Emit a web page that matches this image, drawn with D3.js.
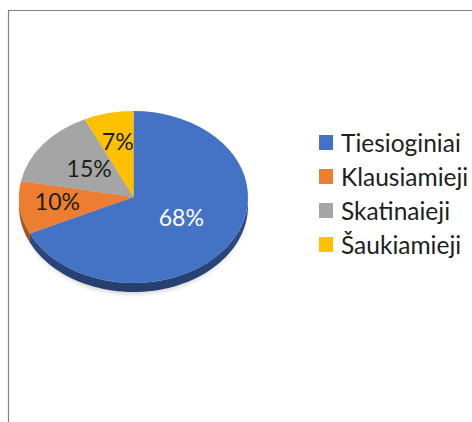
<!DOCTYPE html>
<html><head><meta charset="utf-8">
<script src="https://cdn.jsdelivr.net/npm/d3@7/dist/d3.min.js"></script>
<style>body{margin:0;background:#fff}svg{display:block}</style>
</head><body>
<svg id="c" width="472" height="422"></svg>
<script>
const categories = ["Tiesioginiai", "Klausiamieji", "Skatinaieji", "Šaukiamieji"];
const values = [68, 10, 15, 7];
const labels = ["68%", "10%", "15%", "7%"];
const colors = ["#4472C4", "#ED7D31", "#A5A5A5", "#FFC000"];
const sideColors = ["#2c4a82", "#b35c22", "#7c7c7c", "#bf9000"];
const labelColors = ["#ffffff", "#1e1e1e", "#1e1e1e", "#1e1e1e"];

const svg = d3.select("#c");
const font = "Lato, 'Open Sans', sans-serif";

// chart border
svg.append("path").attr("d", "M8.5,422 L8.5,10.5 L472,10.5")
  .attr("fill", "none").attr("stroke", "#808080").attr("stroke-width", 1.2);

const cx = 133.5, cy = 197, rx = 114.5, ry = 86, depth = 9;
const data = categories.map((c, i) => ({ c, v: values[i], i }));
const arcs = d3.pie().sort(null).value(d => d.v)(data);

const defs = svg.append("defs");
const pt = (a, dy) => [cx + rx * Math.sin(a), cy - ry * Math.cos(a) + dy];

const blur = defs.append("filter").attr("id", "sh").attr("x", "-20%").attr("y", "-20%").attr("width", "140%").attr("height", "140%");
blur.append("feGaussianBlur").attr("stdDeviation", 2.5);
svg.append("ellipse").attr("cx", cx).attr("cy", cy + depth + 2).attr("rx", rx - 2).attr("ry", ry)
  .attr("fill", "#000").attr("opacity", 0.18).attr("filter", "url(#sh)");

// side walls (front half)
arcs.forEach(a => {
  const s = Math.max(a.startAngle, Math.PI / 2), e = Math.min(a.endAngle, 3 * Math.PI / 2);
  if (e <= s) return;
  const g = defs.append("linearGradient").attr("id", "sg" + a.index)
    .attr("x1", 0).attr("y1", 0).attr("x2", 0).attr("y2", 1);
  g.append("stop").attr("offset", "0%").attr("stop-color", d3.color(sideColors[a.index]).brighter(0.3));
  g.append("stop").attr("offset", "100%").attr("stop-color", d3.color(sideColors[a.index]).darker(0.5));
  const n = 60, top = [], bot = [];
  for (let k = 0; k <= n; k++) {
    const t = s + (e - s) * k / n;
    top.push(pt(t, 0)); bot.push(pt(t, depth));
  }
  svg.append("path").attr("d", d3.line()(top.concat(bot.reverse())) + "Z")
    .attr("fill", "url(#sg" + a.index + ")");
});

// top face
const gTop = svg.append("g").attr("transform", `translate(${cx},${cy}) scale(1,${ry / rx})`);
const arcGen = d3.arc().innerRadius(0).outerRadius(rx);
gTop.selectAll("path.slice").data(arcs).join("path")
  .attr("class", "slice").attr("d", arcGen)
  .attr("fill", d => colors[d.index]);

// labels
const lr = [0.495, 0.67, 0.49, 0.63];
const vy = cy - 3;
arcs.forEach(a => {
  const m = (a.startAngle + a.endAngle) / 2;
  const p = [cx + rx * lr[a.index] * Math.sin(m), vy - ry * lr[a.index] * Math.cos(m)];
  svg.append("text").attr("x", p[0]).attr("y", p[1])
    .attr("text-anchor", "middle").attr("dominant-baseline", "central")
    .attr("font-family", font).attr("font-size", 23)
    .attr("fill", labelColors[a.index]).text(labels[a.index]);
});

// legend
const leg = svg.append("g").attr("transform", "translate(319,135)");
categories.forEach((c, i) => {
  const r = leg.append("g").attr("transform", `translate(0,${i * 34})`);
  r.append("rect").attr("width", 14).attr("height", 15).attr("fill", colors[i]);
  r.append("text").attr("x", 22).attr("y", 7.5).attr("dominant-baseline", "central")
    .attr("font-family", font).attr("font-size", 24.5).attr("fill", "#1e1e1e").text(c);
});
</script>
</body></html>
